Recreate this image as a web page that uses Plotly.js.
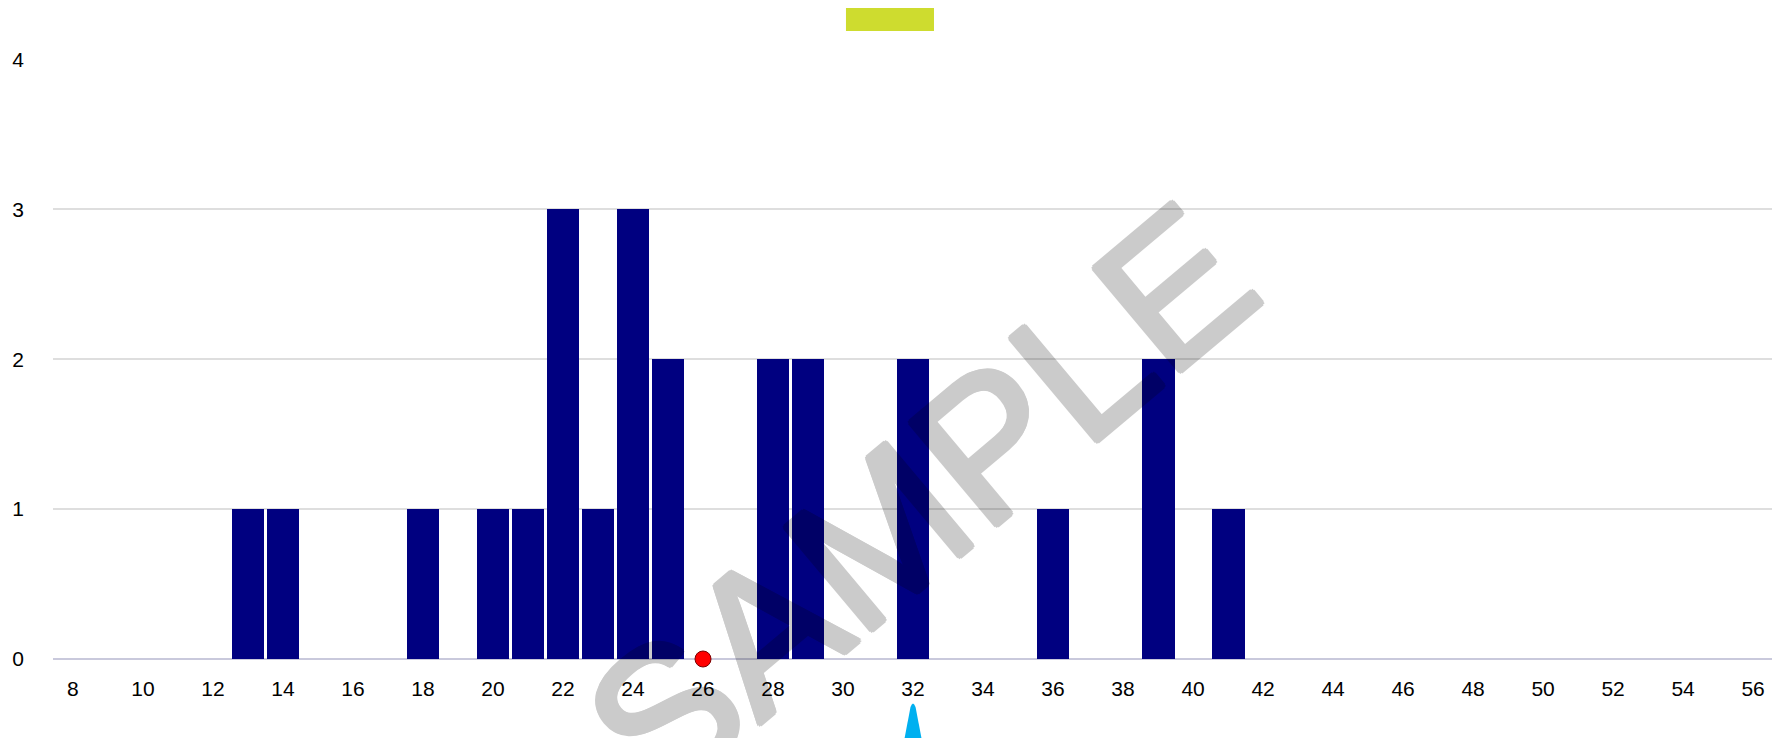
<!DOCTYPE html>
<html>
<head>
<meta charset="utf-8">
<script src="https://cdn.plot.ly/plotly-3.0.1.min.js"></script>
<style>html,body{margin:0;padding:0;background:#fff;}#chart{width:1781px;height:738px;}</style>
</head>
<body>
<div id="chart"></div>
<script>
// Histogram data (value -> count)
const binValues = [13, 14, 18, 20, 21, 22, 23, 24, 25, 28, 29, 32, 36, 39, 41];
const binCounts = [1, 1, 1, 1, 1, 3, 1, 3, 2, 2, 2, 2, 1, 2, 1];
// Red point on the axis
const pointX = [26];
const pointY = [0];
// Blue pointer value below the axis
const pointerX = [32];
// Axis ticks
const xTickVals = [8,10,12,14,16,18,20,22,24,26,28,30,32,34,36,38,40,42,44,46,48,50,52,54,56];
const yTickVals = [0, 1, 2, 3, 4];

const FONT = "'Liberation Sans', Arial, sans-serif";

const traces = [
  {
    type: 'bar',
    x: binValues,
    y: binCounts,
    width: 0.94,
    marker: {color: '#000080', line: {width: 0}},
    hoverinfo: 'x+y'
  },
  {
    type: 'scatter',
    mode: 'markers',
    x: pointX,
    y: pointY,
    cliponaxis: false,
    marker: {color: '#ff0000', size: 16, line: {color: '#7a0000', width: 1}}
  }
];

const shapes = [];
pointerX.forEach(function (v) {
  shapes.push({
    type: 'path',
    xref: 'x', yref: 'paper',
    xsizemode: 'pixel', ysizemode: 'pixel',
    xanchor: v, yanchor: 0,
    path: 'M -11.5 -95 L -2.5 -48 Q 0 -41 2.5 -48 L 11.5 -95 Z',
    fillcolor: '#00b0f0',
    line: {width: 0},
    layer: 'above'
  });
});
// legend swatch
shapes.push({
  type: 'rect', xref: 'paper', yref: 'paper',
  x0: 0.4613, x1: 0.5125, y0: 1.0467, y1: 1.085,
  fillcolor: '#cedc2f', line: {width: 0}
});

const s = 2.8;
const strokeShadow = [
  [s, 0], [-s, 0], [0, s], [0, -s],
  [s * 0.7, s * 0.7], [-s * 0.7, s * 0.7], [s * 0.7, -s * 0.7], [-s * 0.7, -s * 0.7]
].map(function (d) { return d[0] + 'px ' + d[1] + 'px 0 #000'; }).join(', ');

const layout = {
  width: 1781,
  height: 738,
  margin: {l: 53, r: 9, t: 59, b: 79},
  paper_bgcolor: '#ffffff',
  plot_bgcolor: '#ffffff',
  showlegend: false,
  bargap: 0,
  font: {family: FONT, size: 20, color: '#000000'},
  xaxis: {
    range: [7.43, 56.54],
    tickvals: xTickVals,
    ticktext: xTickVals.map(String),
    showgrid: false,
    zeroline: false,
    showline: false,
    ticks: '',
    ticklabelstandoff: 15,
    tickfont: {family: FONT, size: 21, color: '#000'}
  },
  yaxis: {
    range: [0, 4.002],
    tickvals: yTickVals,
    showgrid: true,
    gridcolor: '#dedede',
    gridwidth: 1.5,
    zeroline: true,
    zerolinecolor: '#c9c9dc',
    zerolinewidth: 2,
    showline: false,
    ticks: '',
    ticklabelstandoff: 28,
    tickfont: {family: FONT, size: 21, color: '#000'}
  },
  shapes: shapes,
  annotations: [{
    text: 'SAMPLE',
    xref: 'paper', yref: 'paper',
    x: 0.5045, y: 0.262,
    xanchor: 'center', yanchor: 'middle',
    showarrow: false,
    textangle: -40,
    opacity: 0.2,
    font: {family: FONT, size: 196, color: '#000', shadow: strokeShadow}
  }]
};

Plotly.newPlot('chart', traces, layout, {displayModeBar: false, staticPlot: true});
</script>
</body>
</html>
